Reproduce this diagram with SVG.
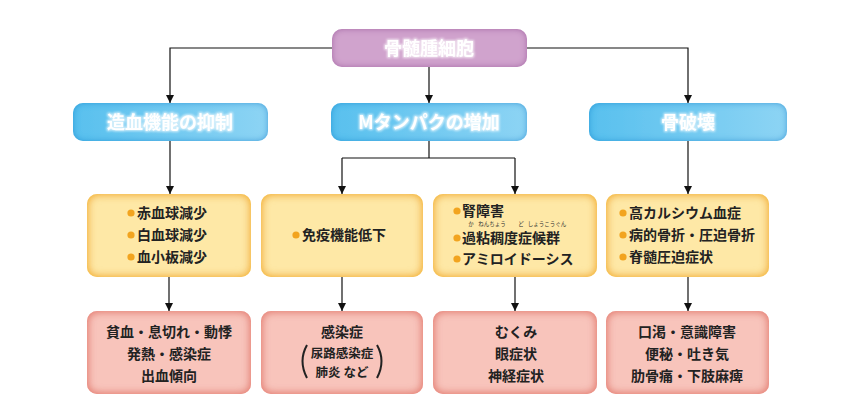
<svg xmlns="http://www.w3.org/2000/svg" width="856" height="408" viewBox="0 0 856 408">
<style>
.t{font-family:"Noto Sans CJK JP","Noto Sans",sans-serif;font-weight:700}
.hd{font-size:18px;fill:#fff;text-anchor:middle}
.it{font-size:14px;fill:#222}
.ct{font-size:14px;fill:#222;text-anchor:middle}
.cs{font-size:12.5px;fill:#222;text-anchor:middle}
.rb{font-size:5.5px;fill:#333;font-weight:400;text-anchor:middle}
.bl{fill:#f2a41f}
.ln{fill:none;stroke:#111;stroke-width:1.2}
.pr{fill:none;stroke:#222;stroke-width:2}
</style>
<defs>
<filter id="igY" x="-10%" y="-10%" width="120%" height="120%">
<feFlood flood-color="#f4b52a"/><feComposite in2="SourceAlpha" operator="out"/><feGaussianBlur stdDeviation="4"/><feComposite in2="SourceAlpha" operator="in" result="g"/>
<feMerge><feMergeNode in="SourceGraphic"/><feMergeNode in="g"/><feMergeNode in="g"/></feMerge>
</filter>
<filter id="igP" x="-10%" y="-10%" width="120%" height="120%">
<feFlood flood-color="#e68277"/><feComposite in2="SourceAlpha" operator="out"/><feGaussianBlur stdDeviation="4"/><feComposite in2="SourceAlpha" operator="in" result="g"/>
<feMerge><feMergeNode in="SourceGraphic"/><feMergeNode in="g"/><feMergeNode in="g"/></feMerge>
</filter>
<filter id="igB" x="-10%" y="-20%" width="120%" height="140%">
<feFlood flood-color="#1e98d8"/><feComposite in2="SourceAlpha" operator="out"/><feGaussianBlur stdDeviation="3"/><feComposite in2="SourceAlpha" operator="in" result="g"/>
<feMerge><feMergeNode in="SourceGraphic"/><feMergeNode in="g"/></feMerge>
</filter>
<filter id="igV" x="-10%" y="-20%" width="120%" height="140%">
<feFlood flood-color="#a25ea3"/><feComposite in2="SourceAlpha" operator="out"/><feGaussianBlur stdDeviation="3"/><feComposite in2="SourceAlpha" operator="in" result="g"/>
<feMerge><feMergeNode in="SourceGraphic"/><feMergeNode in="g"/></feMerge>
</filter>
<filter id="glow" x="-10%" y="-30%" width="120%" height="160%">
<feMorphology in="SourceAlpha" operator="dilate" radius="1"/><feGaussianBlur stdDeviation="1.2"/>
<feColorMatrix type="matrix" values="0 0 0 0 1  0 0 0 0 1  0 0 0 0 1  0 0 0 0.7 0"/>
<feMerge><feMergeNode/><feMergeNode in="SourceGraphic"/></feMerge>
</filter>
<linearGradient id="gB" x1="0" y1="0" x2="1" y2="0"><stop offset="0" stop-color="#58c0ee"/><stop offset="1" stop-color="#8dd4f4"/></linearGradient>
<marker id="ar" viewBox="0 0 10 10" refX="10" refY="5" markerWidth="8" markerHeight="8" markerUnits="userSpaceOnUse" orient="auto"><path d="M0,0 L10,5 L0,10 Z" fill="#111"/></marker>
</defs>

<g id="connectors">
<path class="ln" d="M332,48 H170 V103" marker-end="url(#ar)"/>
<path class="ln" d="M527,48 H688 V103" marker-end="url(#ar)"/>
<path class="ln" d="M429,67 V103" marker-end="url(#ar)"/>
<path class="ln" d="M170,141 V194" marker-end="url(#ar)"/>
<path class="ln" d="M429,141 V158"/>
<path class="ln" d="M342,158 H515"/>
<path class="ln" d="M342,158 V194" marker-end="url(#ar)"/>
<path class="ln" d="M515,158 V194" marker-end="url(#ar)"/>
<path class="ln" d="M688,141 V194" marker-end="url(#ar)"/>
<path class="ln" d="M169,277 V311" marker-end="url(#ar)"/>
<path class="ln" d="M342,277 V311" marker-end="url(#ar)"/>
<path class="ln" d="M515,277 V311" marker-end="url(#ar)"/>
<path class="ln" d="M688,277 V311" marker-end="url(#ar)"/>
</g>

<g id="myeloma">
<rect x="332" y="29" width="195" height="38" rx="10" fill="#d0a3cd" filter="url(#igV)"/>
<text class="t hd" x="429" y="55" filter="url(#glow)">骨髄腫細胞</text>
</g>

<g id="hematopoiesis">
<rect x="73" y="103" width="195" height="38" rx="10" fill="url(#gB)" filter="url(#igB)"/>
<text class="t hd" x="170" y="129" filter="url(#glow)">造血機能の抑制</text>
</g>
<g id="mprotein">
<rect x="331" y="103" width="196" height="38" rx="10" fill="url(#gB)" filter="url(#igB)"/>
<text class="t hd" x="429" y="129" filter="url(#glow)">Mタンパクの増加</text>
</g>
<g id="bone">
<rect x="589" y="103" width="198" height="38" rx="10" fill="url(#gB)" filter="url(#igB)"/>
<text class="t hd" x="688" y="129" filter="url(#glow)">骨破壊</text>
</g>

<g id="cytopenia">
<rect x="87" y="194" width="164" height="83" rx="10" fill="#fee8a6" filter="url(#igY)"/>
<circle class="bl" cx="131" cy="213" r="3.6"/><text class="t it" x="137" y="218">赤血球減少</text>
<circle class="bl" cx="131" cy="235" r="3.6"/><text class="t it" x="137" y="240">白血球減少</text>
<circle class="bl" cx="131" cy="257" r="3.6"/><text class="t it" x="137" y="262">血小板減少</text>
</g>
<g id="immune">
<rect x="261" y="194" width="162" height="83" rx="10" fill="#fee8a6" filter="url(#igY)"/>
<circle class="bl" cx="296" cy="235" r="3.6"/><text class="t it" x="302" y="240">免疫機能低下</text>
</g>
<g id="renal">
<rect x="433" y="194" width="164" height="83" rx="10" fill="#fee8a6" filter="url(#igY)"/>
<circle class="bl" cx="457" cy="211" r="3.6"/><text class="t it" x="462" y="216">腎障害</text>
<text class="t rb" x="471" y="225.5">か</text>
<text class="t rb" x="492" y="225.5">ねんちょう</text>
<text class="t rb" x="521" y="225.5">ど</text>
<text class="t rb" x="547" y="225.5">しょうこうぐん</text>
<circle class="bl" cx="457" cy="238" r="3.6"/><text class="t it" x="462" y="243">過粘稠度症候群</text>
<circle class="bl" cx="457" cy="259" r="3.6"/><text class="t it" x="462" y="264">アミロイドーシス</text>
</g>
<g id="bonesym">
<rect x="606" y="194" width="163" height="83" rx="10" fill="#fee8a6" filter="url(#igY)"/>
<circle class="bl" cx="623" cy="213" r="3.6"/><text class="t it" x="629" y="218">高カルシウム血症</text>
<circle class="bl" cx="623" cy="235" r="3.6"/><text class="t it" x="629" y="240">病的骨折・圧迫骨折</text>
<circle class="bl" cx="623" cy="257" r="3.6"/><text class="t it" x="629" y="262">脊髄圧迫症状</text>
</g>

<g id="anemia">
<rect x="87" y="311" width="164" height="83" rx="10" fill="#f8c4bb" filter="url(#igP)"/>
<text class="t ct" x="169" y="337">貧血・息切れ・動悸</text>
<text class="t ct" x="169" y="359">発熱・感染症</text>
<text class="t ct" x="169" y="381">出血傾向</text>
</g>
<g id="infection">
<rect x="261" y="311" width="162" height="83" rx="10" fill="#f8c4bb" filter="url(#igP)"/>
<text class="t ct" x="342" y="337">感染症</text>
<text class="t cs" x="342" y="358">尿路感染症</text>
<text class="t cs" x="342" y="377">肺炎 など</text>
<path class="pr" d="M307,345 Q298,361 307,378"/>
<path class="pr" d="M377,345 Q386,361 377,378"/>
</g>
<g id="edema">
<rect x="433" y="311" width="164" height="83" rx="10" fill="#f8c4bb" filter="url(#igP)"/>
<text class="t ct" x="516" y="337">むくみ</text>
<text class="t ct" x="516" y="359">眼症状</text>
<text class="t ct" x="516" y="381">神経症状</text>
</g>
<g id="thirst">
<rect x="606" y="311" width="163" height="83" rx="10" fill="#f8c4bb" filter="url(#igP)"/>
<text class="t ct" x="687" y="337">口渇・意識障害</text>
<text class="t ct" x="687" y="359">便秘・吐き気</text>
<text class="t ct" x="687" y="381">肋骨痛・下肢麻痺</text>
</g>
</svg>
